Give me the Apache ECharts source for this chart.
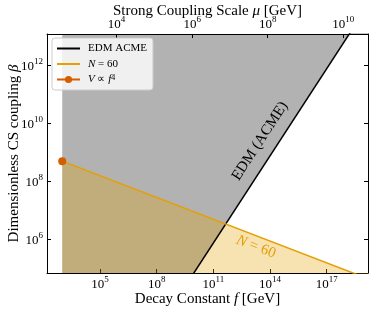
<!DOCTYPE html>
<html><head><meta charset="utf-8">
<script src="https://cdn.jsdelivr.net/npm/echarts@6/dist/echarts.min.js"></script>
<style>html,body{margin:0;padding:0;background:#fff}#c{width:374px;height:312px}</style>
</head><body><div id="c"></div>
<script>
// log10 values
const fTicks = [5, 8, 11, 14, 17];        // Decay constant f ticks (log10 GeV)
const muTicks = [4, 6, 8, 10];            // Strong coupling scale mu ticks (log10 GeV)
const betaTicks = [6, 8, 10, 12];         // beta ticks (log10)
const edmLogF = [3, 19.2];
const edmLogBeta = [-2.13, 14.07];
const n60LogF = [3, 19.2];
const n60LogBeta = [8.69, 4.64];
const quarticLogF = [3];
const quarticLogBeta = [8.69];
const fRange = [2.194, 19.19];
const betaRange = [4.84, 13.067];
const muOffset = 1.06; // log10 mu = log10 f / 2 + muOffset

const FF = 'Liberation Serif';
const zip = (a, b) => a.map((v, i) => [v, b[i]]);
const pow = v => '{b|10}{s|' + v + '}';
const richTick = {
  b: { fontFamily: FF, fontSize: 13, color: '#000', lineHeight: 16, verticalAlign: 'bottom' },
  s: { fontFamily: FF, fontSize: 9, color: '#000', lineHeight: 9, verticalAlign: 'top' }
};
const chart = echarts.init(document.getElementById('c'), null, { renderer: 'canvas' });
const axisLine = { show: true, onZero: false, lineStyle: { color: '#000', width: 1 } };
const nameStyle = { fontFamily: FF, fontSize: 15, color: '#000',
  rich: { i: { fontFamily: FF, fontSize: 15, fontStyle: 'italic', color: '#000' } } };
chart.setOption({
  animation: false,
  backgroundColor: '#fff',
  grid: { left: 47, right: 6, top: 34, bottom: 39, containLabel: false, outerBoundsMode: 'none' },
  xAxis: [
    { type: 'value', position: 'bottom', min: fRange[0], max: fRange[1],
      axisLine, splitLine: { show: false },
      axisTick: { inside: true, length: 4, customValues: fTicks, lineStyle: { color: '#000' } },
      axisLabel: { customValues: fTicks, formatter: pow, rich: richTick, margin: 2 },
      name: 'Decay Constant {i|f} [GeV]', nameLocation: 'middle', nameGap: 19, nameMoveOverlap: false,
      nameTextStyle: nameStyle },
    { type: 'value', position: 'top', min: fRange[0] / 2 + muOffset, max: fRange[1] / 2 + muOffset,
      axisLine, splitLine: { show: false },
      axisTick: { inside: true, length: 4, customValues: muTicks, lineStyle: { color: '#000' } },
      axisLabel: { customValues: muTicks, formatter: pow, rich: richTick, margin: 3 },
      name: 'Strong Coupling Scale {i|μ} [GeV]', nameLocation: 'middle', nameGap: 15, nameMoveOverlap: false,
      nameTextStyle: nameStyle }
  ],
  yAxis: [
    { type: 'value', position: 'left', min: betaRange[0], max: betaRange[1],
      axisLine, splitLine: { show: false },
      axisTick: { inside: true, length: 4, customValues: betaTicks, lineStyle: { color: '#000' } },
      axisLabel: { customValues: betaTicks, formatter: pow, rich: richTick, margin: 4 },
      name: 'Dimensionless CS coupling {i|β}', nameLocation: 'middle', nameGap: 25, nameRotate: 90,
      nameMoveOverlap: false, nameTextStyle: nameStyle },
    { type: 'value', position: 'right', min: betaRange[0], max: betaRange[1],
      axisLine, splitLine: { show: false },
      axisTick: { inside: true, length: 4, customValues: betaTicks, lineStyle: { color: '#000' } },
      axisLabel: { show: false } }
  ],
  legend: {
    orient: 'vertical', left: 52, top: 38, padding: [5, 6, 5, 4], itemGap: 4.5,
    itemWidth: 23, itemHeight: 9,
    backgroundColor: 'rgba(255,255,255,0.8)', borderColor: '#ccc', borderWidth: 1, borderRadius: 3,
    data: [
      { name: 'EDM ACME', itemStyle: { opacity: 0 } },
      { name: 'N = 60', itemStyle: { opacity: 0 } },
      { name: 'V ∝ f4' }
    ],
    formatter: n => n === 'N = 60' ? '{i|N} = 60' : (n === 'V ∝ f4' ? '{i|V} ∝ {i|f}{s|4}' : n),
    textStyle: { fontFamily: FF, fontSize: 11, color: '#000', padding: [0, 0, 0, 3],
      rich: {
        i: { fontFamily: FF, fontSize: 11, fontStyle: 'italic', color: '#000' },
        s: { fontFamily: FF, fontSize: 8, color: '#000', verticalAlign: 'top', lineHeight: 7 }
      } }
  },
  series: [
    { name: 'EDM ACME', type: 'line', data: zip(edmLogF, edmLogBeta), symbol: 'none',
      lineStyle: { color: '#000', width: 1.5 }, itemStyle: { color: '#000' },
      areaStyle: { color: 'rgba(0,0,0,0.3)', opacity: 1, origin: 'end' } },
    { name: 'N = 60', type: 'line', data: zip(n60LogF, n60LogBeta), symbol: 'none',
      lineStyle: { color: '#e69f00', width: 1.5 }, itemStyle: { color: '#e69f00' },
      areaStyle: { color: 'rgba(230,159,0,0.3)', opacity: 1, origin: 'start' } },
    { name: 'V ∝ f4', type: 'line', data: zip(quarticLogF, quarticLogBeta), symbol: 'circle',
      symbolSize: 8, clip: false, lineStyle: { color: '#d55e00', width: 1.5 },
      itemStyle: { color: '#d55e00' }, z: 5 }
  ]
});
// annotations placed in data coordinates
const px = p => chart.convertToPixel({ xAxisIndex: 0, yAxisIndex: 0 }, p);
const ang = (a, b) => { const A = px(a), B = px(b); return -Math.atan2(B[1] - A[1], B[0] - A[0]); };
const edmPos = px([13.47, 9.38]);
const nPos = px([13.26, 5.74]);
chart.setOption({
  graphic: [
    { type: 'text', x: edmPos[0], y: edmPos[1],
      rotation: ang([edmLogF[0], edmLogBeta[0]], [edmLogF[1], edmLogBeta[1]]),
      style: { text: 'EDM (ACME)', fontFamily: FF, fontSize: 15, fill: '#000', align: 'center', verticalAlign: 'middle' } },
    { type: 'text', x: nPos[0], y: nPos[1],
      rotation: ang([n60LogF[0], n60LogBeta[0]], [n60LogF[1], n60LogBeta[1]]),
      style: { text: '{i|N} = 60', fontFamily: FF, fontSize: 15, fill: '#e69f00', align: 'center', verticalAlign: 'middle',
        rich: { i: { fontFamily: FF, fontSize: 15, fontStyle: 'italic', fill: '#e69f00', color: '#e69f00' } } } }
  ]
});
</script></body></html>
